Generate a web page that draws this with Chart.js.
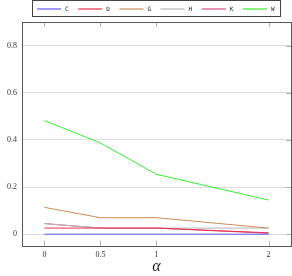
<!DOCTYPE html>
<html>
<head>
<meta charset="utf-8">
<script src="https://cdn.jsdelivr.net/npm/chart.js@4/dist/chart.umd.min.js"></script>
<style>
  html, body { margin: 0; padding: 0; background: #fff; }
  #wrap { width: 292px; height: 276px; position: relative; }
</style>
</head>
<body>
<div id="wrap"><canvas id="myChart"></canvas></div>
<script>
// alpha values on the x axis
const alphas = [0, 0.5, 1, 2];
const xTicks = [0, 0.5, 1, 2];
const yTicks = [0, 0.2, 0.4, 0.6, 0.8];

const names = ['C', 'D', 'G', 'H', 'K', 'W'];
const seriesC = [0, 0, 0, 0];
const seriesD = [0.026, 0.026, 0.026, 0.006];
const seriesG = [0.114, 0.07, 0.07, 0.026];
const seriesH = [0.045, 0.026, 0.026, 0.026];
const seriesK = [0.045, 0.026, 0.026, 0.004];
const seriesW = [0.482, 0.387, 0.254, 0.145];
const colors = ['#5a5aff', '#e8334a', '#cc8c55', '#b4b4b4', '#e04a86', '#33ee33'];

const allSeries = [seriesC, seriesD, seriesG, seriesH, seriesK, seriesW];

{
  const serif = '"Liberation Serif", "DejaVu Serif", serif';

  const frame = {
    id: 'frame',
    afterDraw(chart) {
      const { ctx, chartArea: a, scales } = chart;
      ctx.save();
      // inward tick marks
      ctx.strokeStyle = '#b0b0b0';
      ctx.lineWidth = 1;
      ctx.beginPath();
      for (const t of xTicks) {
        const px = Math.round(scales.x.getPixelForValue(t)) + 0.5;
        ctx.moveTo(px, a.bottom); ctx.lineTo(px, a.bottom - 5);
        ctx.moveTo(px, a.top); ctx.lineTo(px, a.top + 5);
      }
      for (const t of yTicks) {
        const py = Math.round(scales.y.getPixelForValue(t)) + 0.5;
        ctx.moveTo(a.right, py); ctx.lineTo(a.right - 5, py);
      }
      ctx.stroke();
      // axis box
      ctx.strokeStyle = '#555';
      ctx.strokeRect(Math.round(a.left) + 0.5, Math.round(a.top) + 0.5,
        Math.round(a.right - a.left), Math.round(a.bottom - a.top));

      // legend box at the top
      ctx.strokeStyle = '#444';
      ctx.strokeRect(32.5, 0.5, 248, 16);
      ctx.font = '6px "DejaVu Sans Mono"';
      ctx.textBaseline = 'middle';
      chart.data.datasets.forEach((ds, i) => {
        const x0 = 37 + i * 41.2;
        ctx.strokeStyle = ds.borderColor;
        ctx.lineWidth = 1.2;
        ctx.beginPath();
        ctx.moveTo(x0, 9); ctx.lineTo(x0 + 24, 9);
        ctx.stroke();
        ctx.fillStyle = '#222';
        ctx.fillText(ds.label, x0 + 28, 9);
      });
      ctx.restore();
    }
  };

  const ctx = document.getElementById('myChart').getContext('2d');
  // eslint-disable-next-line no-undef
  const chart = new Chart(ctx, {
    type: 'line',
    data: {
      datasets: names.map((n, i) => ({
        label: n,
        data: alphas.map((a, j) => ({ x: a, y: allSeries[i][j] })),
        borderColor: colors[i],
        backgroundColor: colors[i],
        borderWidth: 1,
        pointRadius: 0,
        tension: 0,
      })),
    },
    options: {
      responsive: true,
      maintainAspectRatio: false,
      animation: false,
      layout: { padding: { top: 22, right: 1, left: 0, bottom: 0 } },
      plugins: { legend: { display: false }, tooltip: { enabled: false } },
      scales: {
        x: {
          type: 'linear',
          min: -0.2,
          max: 2.2,
          afterBuildTicks: (s) => { s.ticks = xTicks.map((v) => ({ value: v })); },
          afterFit: (s) => { s.height = 30; },
          grid: { display: false, drawTicks: false },
          border: { display: false },
          ticks: {
            padding: 4,
            color: '#333',
            font: { family: serif, size: 8 },
            callback: (v) => String(v),
          },
          title: {
            display: true,
            text: 'α',
            color: '#222',
            padding: { top: 0, bottom: 0 },
            font: { family: serif, size: 16, style: 'italic' },
          },
        },
        y: {
          min: -0.05,
          max: 0.9,
          afterBuildTicks: (s) => { s.ticks = yTicks.map((v) => ({ value: v })); },
          afterFit: (s) => { s.width = 22; },
          grid: { color: '#dcdcdc', drawTicks: false },
          border: { display: false },
          ticks: {
            padding: 5,
            color: '#333',
            font: { family: serif, size: 8 },
            callback: (v) => String(Math.round(v * 10) / 10),
          },
        },
      },
    },
    plugins: [frame],
  });
}
</script>
</body>
</html>
